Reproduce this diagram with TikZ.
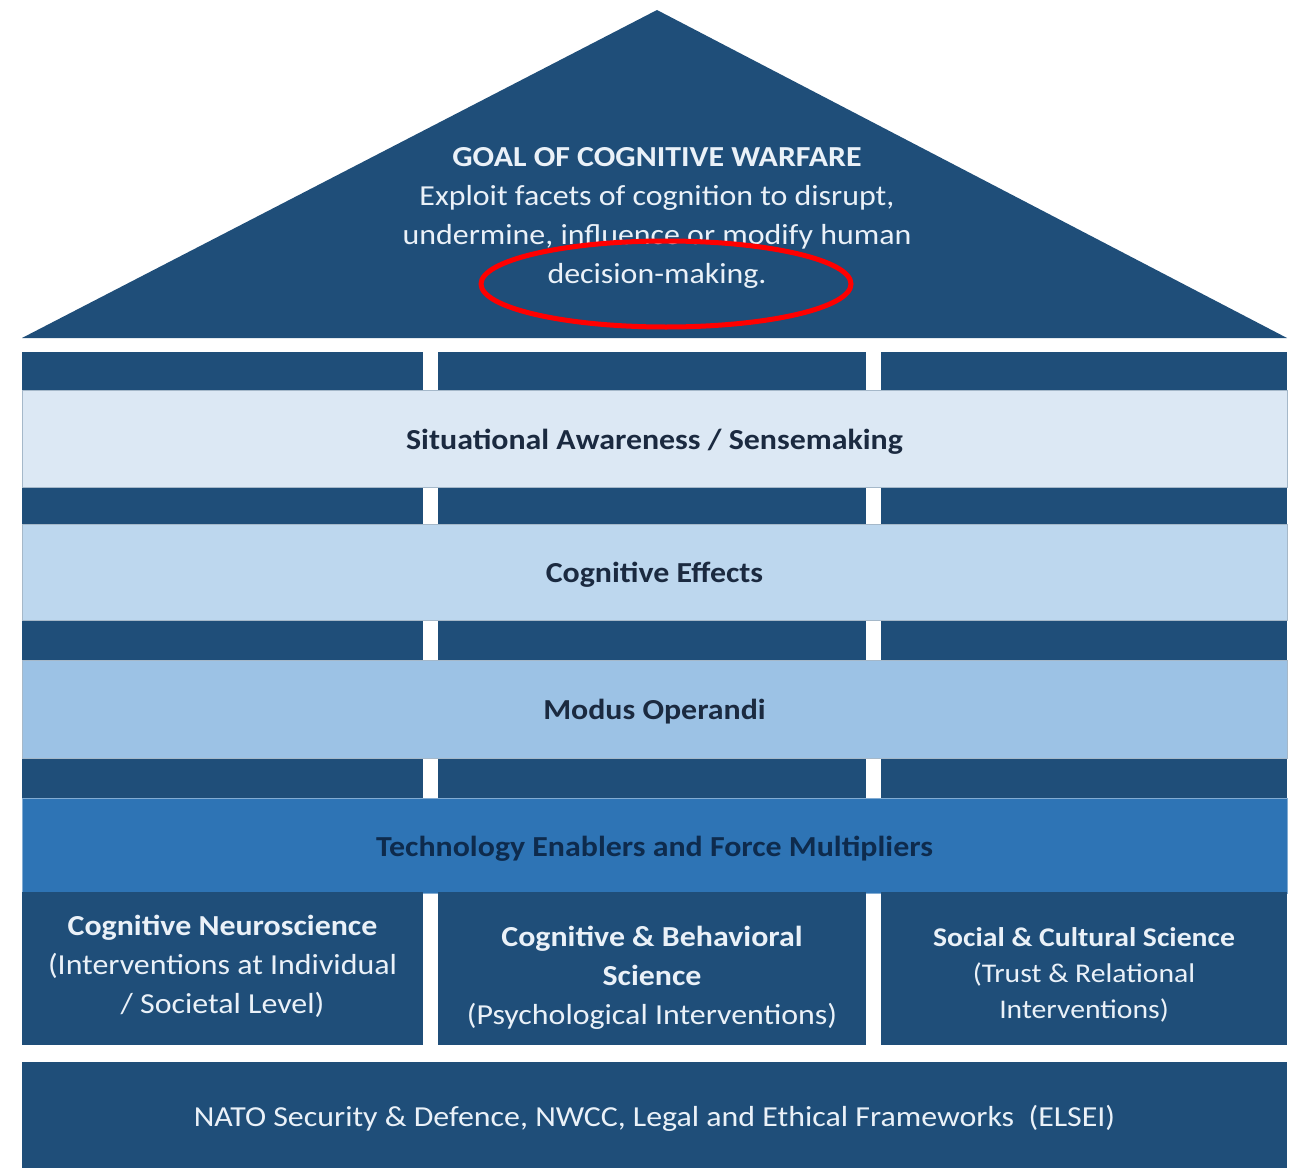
\documentclass[tikz,border=0pt]{standalone}
\usepackage{fontspec}
\setmainfont{Carlito}[FakeStretch=1.1]
\usetikzlibrary{shapes.geometric}
\definecolor{navy}{HTML}{1F4E79}
\definecolor{saC}{HTML}{DCE8F4}
\definecolor{ceC}{HTML}{BDD7EE}
\definecolor{moC}{HTML}{9CC2E5}
\definecolor{teC}{HTML}{2E74B5}
\definecolor{bandtxt}{HTML}{1B2A40}
\definecolor{tetxt}{HTML}{0E2B4D}
\definecolor{lighttxt}{HTML}{EAF1F8}
\newcommand{\txtb}{\fontsize{29}{39}\selectfont\bfseries}
\newcommand{\txtr}{\fontsize{29}{39}\selectfont\mdseries}
\tikzset{
  band/.style={rectangle, inner sep=0pt, minimum width=1265pt, draw=navy!40, line width=0.6pt,
     font=\fontsize{29}{34}\selectfont\bfseries, text=bandtxt, text height=21pt, text depth=0pt},
  colbox/.style={rectangle, fill=navy, inner sep=0pt, minimum height=153pt},
  coltext/.style={align=center, inner sep=0pt, text=lighttxt, font=\fontsize{29}{39}\selectfont},
  pillar/.style={fill=white, draw=none},
}
\begin{document}
\begin{tikzpicture}[x=1pt,y=-1pt]
\useasboundingbox (0,0) rectangle (1289,1169);
% roof
\fill[navy] (22,338) -- (657,10) -- (1287,338) -- cycle;
\node[align=center, text=lighttxt, inner sep=0pt, font=\fontsize{29}{39}\selectfont] (goal) at (657,218)
  {\fontsize{29}{39}\selectfont\bfseries GOAL OF COGNITIVE WARFARE\\
   \txtr Exploit facets of cognition to disrupt,\\
   \txtr undermine, influence or modify human\\
   \txtr decision-making.};
\node[draw=red, ellipse, line width=5pt, minimum width=370pt, minimum height=86pt, inner sep=0pt] (mark) at (666,284) {};
% body background
\fill[navy] (22,352) rectangle (1287,1045);
\fill[pillar] (423,352) rectangle (438,1045);
\fill[pillar] (866,352) rectangle (881,1045);
% bands
\node[band, fill=saC, minimum height=97pt] (sa) at (654.5,438.5) {Situational Awareness / Sensemaking};
\node[band, fill=ceC, minimum height=96pt] (ce) at (654.5,572) {Cognitive Effects};
\node[band, fill=moC, minimum height=98pt] (mo) at (654.5,709) {Modus Operandi};
\node[band, fill=teC, draw=teC!60!white, minimum height=95pt, text=tetxt] (te) at (654.5,845.5) {Technology Enablers and Force Multipliers};
% columns
\node[colbox, minimum width=401pt] (cn) at (222.5,968.5) {};
\node[colbox, minimum width=428pt] (cb) at (652,968.5) {};
\node[colbox, minimum width=406pt] (sc) at (1084,968.5) {};
\node[coltext] (cnt) at ([yshift=2.5pt]cn.center)
  {\txtb Cognitive Neuroscience\\
   \txtr (Interventions at Individual\\
   \txtr / Societal Level)};
\node[coltext] (cbt) at ([yshift=-9pt]cb.center)
  {\txtb Cognitive \& Behavioral\\
   \txtb Science\\
   \txtr (Psychological Interventions)};
\node[coltext, font=\fontsize{27}{36}\selectfont] (sct) at ([yshift=-6pt]sc.center)
  {\bfseries Social \& Cultural Science\\
   \fontsize{27}{36}\selectfont\mdseries (Trust \& Relational\\
   \fontsize{27}{36}\selectfont\mdseries Interventions)};
% foundation
\node[rectangle, fill=navy, inner sep=0pt, minimum width=1265pt, minimum height=106pt] (base) at (654.5,1115) {};
\node[inner sep=0pt, text=lighttxt, font=\fontsize{29}{34}\selectfont] (baset) at ([yshift=-3pt]base.center)
  {NATO Security \& Defence, NWCC, Legal and Ethical Frameworks\ \ (ELSEI)};
\end{tikzpicture}
\end{document}
